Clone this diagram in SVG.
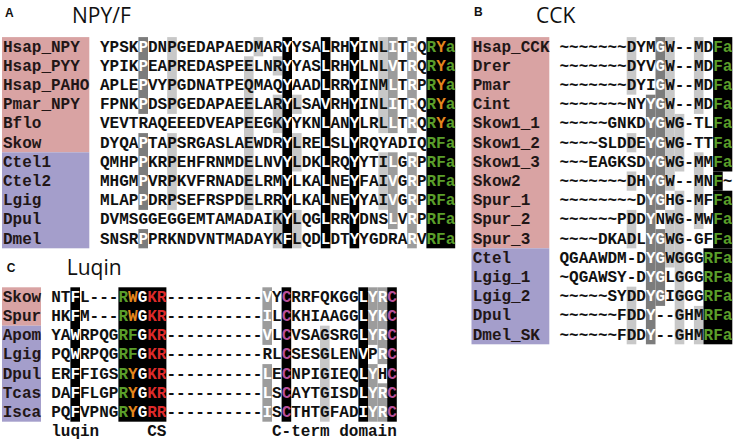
<svg xmlns="http://www.w3.org/2000/svg" width="734" height="441" viewBox="0 0 734 441">
<style>
.nm{font-family:"Liberation Mono","DejaVu Sans Mono",monospace;font-weight:bold;font-size:16px;fill:#221616}
.sq{font-family:"Liberation Mono","DejaVu Sans Mono",monospace;font-weight:bold;font-size:16px;fill:#111}
.w{fill:#fff}.g{fill:#5a9e2a}.o{fill:#e3861d}.r{fill:#dd2a2a}.mg{fill:#b8509a}
.ti{font-family:"Open Sans","DejaVu Sans",sans-serif;font-size:21px;fill:#111}
.pl{font-family:"Liberation Sans",Arial,sans-serif;font-weight:bold;font-size:12px;fill:#111}
.pk{fill:#d9a3a3}.bl{fill:#a49ecb}.k{fill:#000}.dg{fill:#7c7c7c}.mgy{fill:#9c9c9c}.lg{fill:#c8c8c8}
</style>
<rect width="734" height="441" fill="#fff"/>

<g id="panel-A">
  <text class="pl" x="5" y="16.7">A</text>
  <text class="ti" x="72" y="23">NPY/F</text>
  <rect class="pk" x="2" y="37.1" width="87.3" height="115.2"/>
  <rect class="bl" x="2" y="152.3" width="87.3" height="96"/>
  <g id="A-shading">
    <rect class="dg" x="138.4" y="37.1" width="9.6" height="76.8"/>
    <rect class="dg" x="138.4" y="133.1" width="9.6" height="76.8"/>
    <rect class="dg" x="138.4" y="229.1" width="9.6" height="19.2"/>
    <rect class="lg" x="167.2" y="37.1" width="9.6" height="76.8"/>
    <rect class="lg" x="167.2" y="133.1" width="9.6" height="76.8"/>
    <rect class="lg" x="244" y="56.3" width="9.6" height="153.6"/>
    <rect class="lg" x="253.6" y="37.1" width="9.6" height="19.2"/>
    <rect class="lg" x="272.8" y="56.3" width="9.6" height="19.2"/>
    <rect class="lg" x="272.8" y="94.7" width="9.6" height="38.4"/>
    <rect class="lg" x="272.8" y="209.9" width="9.6" height="38.4"/>
    <rect class="k" x="282.4" y="37.1" width="9.6" height="211.2"/>
    <rect class="lg" x="292" y="94.7" width="9.6" height="19.2"/>
    <rect class="lg" x="292" y="133.1" width="9.6" height="38.4"/>
    <rect class="lg" x="292" y="209.9" width="9.6" height="38.4"/>
    <rect class="k" x="320.8" y="37.1" width="9.6" height="211.2"/>
    <rect class="k" x="349.6" y="37.1" width="9.6" height="211.2"/>
    <rect class="lg" x="378.4" y="37.1" width="9.6" height="96"/>
    <rect class="lg" x="378.4" y="152.3" width="9.6" height="57.6"/>
    <rect class="mgy" x="388" y="37.1" width="9.6" height="96"/>
    <rect class="mgy" x="388" y="152.3" width="9.6" height="76.8"/>
    <rect class="mgy" x="407.2" y="37.1" width="9.6" height="96"/>
    <rect class="mgy" x="407.2" y="152.3" width="9.6" height="96"/>
    <rect class="k" x="426.4" y="37.1" width="28.8" height="211.2"/>
  </g>
  <g id="A-Hsap_NPY"><text class="nm" x="3" y="51.6">Hsap_NPY</text><text class="sq" x="100" y="51.6">YPSK<tspan class="w">P</tspan>DNPGEDAPAEDMAR<tspan class="w">Y</tspan>YSA<tspan class="w">L</tspan>RH<tspan class="w">Y</tspan>INL<tspan class="w">I</tspan>T<tspan class="w">R</tspan>Q<tspan class="g">R</tspan><tspan class="o">Y</tspan><tspan class="g">a</tspan></text></g>
  <g id="A-Hsap_PYY"><text class="nm" x="3" y="70.8">Hsap_PYY</text><text class="sq" x="100" y="70.8">YPIK<tspan class="w">P</tspan>EAPREDASPEELNR<tspan class="w">Y</tspan>YAS<tspan class="w">L</tspan>RH<tspan class="w">Y</tspan>LNL<tspan class="w">V</tspan>T<tspan class="w">R</tspan>Q<tspan class="g">R</tspan><tspan class="o">Y</tspan><tspan class="g">a</tspan></text></g>
  <g id="A-Hsap_PAHO"><text class="nm" x="3" y="90">Hsap_PAHO</text><text class="sq" x="100" y="90">APLE<tspan class="w">P</tspan>VYPGDNATPEQMAQ<tspan class="w">Y</tspan>AAD<tspan class="w">L</tspan>RR<tspan class="w">Y</tspan>INM<tspan class="w">L</tspan>T<tspan class="w">R</tspan>P<tspan class="g">R</tspan><tspan class="o">Y</tspan><tspan class="g">a</tspan></text></g>
  <g id="A-Pmar_NPY"><text class="nm" x="3" y="109.2">Pmar_NPY</text><text class="sq" x="100" y="109.2">FPNK<tspan class="w">P</tspan>DSPGEDAPAEELAR<tspan class="w">Y</tspan>LSA<tspan class="w">V</tspan>RH<tspan class="w">Y</tspan>INL<tspan class="w">I</tspan>T<tspan class="w">R</tspan>Q<tspan class="g">R</tspan><tspan class="o">Y</tspan><tspan class="g">a</tspan></text></g>
  <g id="A-Bflo"><text class="nm" x="3" y="128.4">Bflo</text><text class="sq" x="100" y="128.4">VEVTRAQEEEDVEAPEEGK<tspan class="w">Y</tspan>YKN<tspan class="w">L</tspan>AN<tspan class="w">Y</tspan>LRL<tspan class="w">L</tspan>T<tspan class="w">R</tspan>Q<tspan class="g">R</tspan><tspan class="o">Y</tspan><tspan class="g">a</tspan></text></g>
  <g id="A-Skow"><text class="nm" x="3" y="147.6">Skow</text><text class="sq" x="100" y="147.6">DYQA<tspan class="w">P</tspan>TAPSRGASLAEWDR<tspan class="w">Y</tspan>LRE<tspan class="w">L</tspan>SL<tspan class="w">Y</tspan>RQYADIQ<tspan class="g">RFa</tspan></text></g>
  <g id="A-Ctel1"><text class="nm" x="3" y="166.8">Ctel1</text><text class="sq" x="100" y="166.8">QMHP<tspan class="w">P</tspan>KRPEHFRNMDELNV<tspan class="w">Y</tspan>LDK<tspan class="w">L</tspan>RQ<tspan class="w">Y</tspan>YTI<tspan class="w">L</tspan>G<tspan class="w">R</tspan>P<tspan class="g">RFa</tspan></text></g>
  <g id="A-Ctel2"><text class="nm" x="3" y="186">Ctel2</text><text class="sq" x="100" y="186">MHGM<tspan class="w">P</tspan>VRPKVFRNADELRM<tspan class="w">Y</tspan>LKA<tspan class="w">L</tspan>NE<tspan class="w">Y</tspan>FAI<tspan class="w">V</tspan>G<tspan class="w">R</tspan>P<tspan class="g">RFa</tspan></text></g>
  <g id="A-Lgig"><text class="nm" x="3" y="205.2">Lgig</text><text class="sq" x="100" y="205.2">MLAP<tspan class="w">P</tspan>DRPSEFRSPDELRR<tspan class="w">Y</tspan>LKA<tspan class="w">L</tspan>NE<tspan class="w">Y</tspan>YAI<tspan class="w">V</tspan>G<tspan class="w">R</tspan>P<tspan class="g">RFa</tspan></text></g>
  <g id="A-Dpul"><text class="nm" x="3" y="224.4">Dpul</text><text class="sq" x="100" y="224.4">DVMSGGEGGEMTAMADAIK<tspan class="w">Y</tspan>LQG<tspan class="w">L</tspan>RR<tspan class="w">Y</tspan>DNS<tspan class="w">L</tspan>V<tspan class="w">R</tspan>P<tspan class="g">RFa</tspan></text></g>
  <g id="A-Dmel"><text class="nm" x="3" y="243.6">Dmel</text><text class="sq" x="100" y="243.6">SNSR<tspan class="w">P</tspan>PRKNDVNTMADAYK<tspan class="w">F</tspan>LQD<tspan class="w">L</tspan>DT<tspan class="w">Y</tspan>YGDRA<tspan class="w">R</tspan>V<tspan class="g">RFa</tspan></text></g>
</g>

<g id="panel-B">
  <text class="pl" x="474" y="15.5">B</text>
  <text class="ti" x="536" y="23">CCK</text>
  <rect class="pk" x="471.5" y="37.1" width="77.8" height="211.2"/>
  <rect class="bl" x="471.5" y="248.3" width="77.8" height="96"/>
  <g id="B-shading">
    <rect class="lg" x="626.7" y="37.1" width="9.6" height="57.6"/>
    <rect class="lg" x="626.7" y="133.1" width="9.6" height="19.2"/>
    <rect class="lg" x="626.7" y="171.5" width="9.6" height="19.2"/>
    <rect class="lg" x="626.7" y="209.9" width="9.6" height="38.4"/>
    <rect class="lg" x="626.7" y="286.7" width="9.6" height="57.6"/>
    <rect class="dg" x="645.9" y="94.7" width="9.6" height="249.6"/>
    <rect class="dg" x="655.5" y="37.1" width="9.6" height="172.8"/>
    <rect class="dg" x="655.5" y="229.1" width="9.6" height="76.8"/>
    <rect class="lg" x="665.1" y="37.1" width="9.6" height="153.6"/>
    <rect class="lg" x="665.1" y="209.9" width="9.6" height="57.6"/>
    <rect class="lg" x="674.7" y="113.9" width="9.6" height="57.6"/>
    <rect class="lg" x="674.7" y="190.7" width="9.6" height="153.6"/>
    <rect class="lg" x="693.9" y="37.1" width="9.6" height="76.8"/>
    <rect class="lg" x="693.9" y="152.3" width="9.6" height="76.8"/>
    <rect class="lg" x="693.9" y="305.9" width="9.6" height="38.4"/>
    <rect class="k" x="713.1" y="37.1" width="19.2" height="134.4"/>
    <rect class="k" x="713.1" y="171.5" width="9.6" height="19.2"/>
    <rect class="k" x="713.1" y="190.7" width="19.2" height="57.6"/>
    <rect class="k" x="703.5" y="248.3" width="28.8" height="96"/>
  </g>
  <g id="B-Hsap_CCK"><text class="nm" x="472.7" y="51.6">Hsap_CCK</text><text class="sq" x="559.5" y="51.6">~~~~~~~DYM<tspan class="w">G</tspan>W--MD<tspan class="g">Fa</tspan></text></g>
  <g id="B-Drer"><text class="nm" x="472.7" y="70.8">Drer</text><text class="sq" x="559.5" y="70.8">~~~~~~~DYV<tspan class="w">G</tspan>W--MD<tspan class="g">Fa</tspan></text></g>
  <g id="B-Pmar"><text class="nm" x="472.7" y="90">Pmar</text><text class="sq" x="559.5" y="90">~~~~~~~DYI<tspan class="w">G</tspan>W--MD<tspan class="g">Fa</tspan></text></g>
  <g id="B-Cint"><text class="nm" x="472.7" y="109.2">Cint</text><text class="sq" x="559.5" y="109.2">~~~~~~~NY<tspan class="w">YG</tspan>W--MD<tspan class="g">Fa</tspan></text></g>
  <g id="B-Skow1_1"><text class="nm" x="472.7" y="128.4">Skow1_1</text><text class="sq" x="559.5" y="128.4">~~~~~GNKD<tspan class="w">YG</tspan>WG-TL<tspan class="g">Fa</tspan></text></g>
  <g id="B-Skow1_2"><text class="nm" x="472.7" y="147.6">Skow1_2</text><text class="sq" x="559.5" y="147.6">~~~~SLDDE<tspan class="w">YG</tspan>WG-TT<tspan class="g">Fa</tspan></text></g>
  <g id="B-Skow1_3"><text class="nm" x="472.7" y="166.8">Skow1_3</text><text class="sq" x="559.5" y="166.8">~~~EAGKSD<tspan class="w">YG</tspan>WG-MM<tspan class="g">Fa</tspan></text></g>
  <g id="B-Skow2"><text class="nm" x="472.7" y="186">Skow2</text><text class="sq" x="559.5" y="186">~~~~~~~DH<tspan class="w">YG</tspan>W--MN<tspan class="g">F</tspan>~</text></g>
  <g id="B-Spur_1"><text class="nm" x="472.7" y="205.2">Spur_1</text><text class="sq" x="559.5" y="205.2">~~~~~~~~D<tspan class="w">YG</tspan>HG-MF<tspan class="g">Fa</tspan></text></g>
  <g id="B-Spur_2"><text class="nm" x="472.7" y="224.4">Spur_2</text><text class="sq" x="559.5" y="224.4">~~~~~~PDD<tspan class="w">Y</tspan>NWG-MW<tspan class="g">Fa</tspan></text></g>
  <g id="B-Spur_3"><text class="nm" x="472.7" y="243.6">Spur_3</text><text class="sq" x="559.5" y="243.6">~~~~DKADL<tspan class="w">YG</tspan>WG-GF<tspan class="g">Fa</tspan></text></g>
  <g id="B-Ctel"><text class="nm" x="472.7" y="262.8">Ctel</text><text class="sq" x="559.5" y="262.8">QGAAWDM-D<tspan class="w">YG</tspan>WGGG<tspan class="g">RFa</tspan></text></g>
  <g id="B-Lgig_1"><text class="nm" x="472.7" y="282">Lgig_1</text><text class="sq" x="559.5" y="282">~QGAWSY-D<tspan class="w">YG</tspan>LGGG<tspan class="g">RFa</tspan></text></g>
  <g id="B-Lgig_2"><text class="nm" x="472.7" y="301.2">Lgig_2</text><text class="sq" x="559.5" y="301.2">~~~~~SYDD<tspan class="w">YG</tspan>IGGG<tspan class="g">RFa</tspan></text></g>
  <g id="B-Dpul"><text class="nm" x="472.7" y="320.4">Dpul</text><text class="sq" x="559.5" y="320.4">~~~~~~FDD<tspan class="w">Y</tspan>--GHM<tspan class="g">RFa</tspan></text></g>
  <g id="B-Dmel_SK"><text class="nm" x="472.7" y="339.6">Dmel_SK</text><text class="sq" x="559.5" y="339.6">~~~~~~FDD<tspan class="w">Y</tspan>--GHM<tspan class="g">RFa</tspan></text></g>
</g>

<g id="panel-C">
  <text class="pl" x="6.7" y="271.7">C</text>
  <text class="ti" x="66.7" y="275">Luqin</text>
  <rect class="pk" x="2" y="287.3" width="39" height="38.4"/>
  <rect class="bl" x="2" y="325.7" width="39" height="96"/>
  <g id="C-shading">
    <rect class="k" x="70.4" y="287.3" width="9.6" height="134.4"/>
    <rect class="k" x="118.4" y="287.3" width="48" height="134.4"/>
    <rect class="mgy" x="262.4" y="287.3" width="9.6" height="57.6"/>
    <rect class="mgy" x="262.4" y="364.1" width="9.6" height="57.6"/>
    <rect class="k" x="281.6" y="287.3" width="9.6" height="134.4"/>
    <rect class="lg" x="320" y="325.7" width="9.6" height="96"/>
    <rect class="k" x="358.4" y="287.3" width="9.6" height="134.4"/>
    <rect class="mgy" x="368" y="287.3" width="9.6" height="57.6"/>
    <rect class="mgy" x="368" y="364.1" width="9.6" height="57.6"/>
    <rect class="mgy" x="377.6" y="287.3" width="9.6" height="76.8"/>
    <rect class="mgy" x="377.6" y="383.3" width="9.6" height="38.4"/>
    <rect class="k" x="387.2" y="287.3" width="9.6" height="134.4"/>
  </g>
  <g id="C-Skow"><text class="nm" x="2.7" y="301.8">Skow</text><text class="sq" x="51.2" y="301.8">NT<tspan class="w">F</tspan>L---<tspan class="g">R</tspan><tspan class="o">W</tspan><tspan class="w">G</tspan><tspan class="r">KR</tspan>----------<tspan class="w">V</tspan>Y<tspan class="mg">C</tspan>RRFQKGG<tspan class="w">LYR</tspan><tspan class="mg">C</tspan></text></g>
  <g id="C-Spur"><text class="nm" x="2.7" y="321">Spur</text><text class="sq" x="51.2" y="321">HK<tspan class="w">F</tspan>M---<tspan class="g">R</tspan><tspan class="o">W</tspan><tspan class="w">G</tspan><tspan class="r">KR</tspan>----------<tspan class="w">I</tspan>L<tspan class="mg">C</tspan>KHIAAGG<tspan class="w">LYK</tspan><tspan class="mg">C</tspan></text></g>
  <g id="C-Apom"><text class="nm" x="2.7" y="340.2">Apom</text><text class="sq" x="51.2" y="340.2">YA<tspan class="w">W</tspan>RPQG<tspan class="g">RF</tspan><tspan class="w">G</tspan><tspan class="r">KR</tspan>----------<tspan class="w">V</tspan>L<tspan class="mg">C</tspan>VSAGSRG<tspan class="w">LYR</tspan><tspan class="mg">C</tspan></text></g>
  <g id="C-Lgig"><text class="nm" x="2.7" y="359.4">Lgig</text><text class="sq" x="51.2" y="359.4">PQ<tspan class="w">W</tspan>RPQG<tspan class="g">RF</tspan><tspan class="w">G</tspan><tspan class="r">KR</tspan>----------RL<tspan class="mg">C</tspan>SESGLEN<tspan class="w">V</tspan>P<tspan class="w">R</tspan><tspan class="mg">C</tspan></text></g>
  <g id="C-Dpul"><text class="nm" x="2.7" y="378.6">Dpul</text><text class="sq" x="51.2" y="378.6">ER<tspan class="w">F</tspan>FIGS<tspan class="g">R</tspan><tspan class="o">Y</tspan><tspan class="w">G</tspan><tspan class="r">KR</tspan>----------<tspan class="w">L</tspan>E<tspan class="mg">C</tspan>NPIGIEQ<tspan class="w">LY</tspan>H<tspan class="mg">C</tspan></text></g>
  <g id="C-Tcas"><text class="nm" x="2.7" y="397.8">Tcas</text><text class="sq" x="51.2" y="397.8">DA<tspan class="w">F</tspan>FLGP<tspan class="g">R</tspan><tspan class="o">Y</tspan><tspan class="w">G</tspan><tspan class="r">KR</tspan>----------<tspan class="w">L</tspan>S<tspan class="mg">C</tspan>AYTGISD<tspan class="w">LYR</tspan><tspan class="mg">C</tspan></text></g>
  <g id="C-Isca"><text class="nm" x="2.7" y="417">Isca</text><text class="sq" x="51.2" y="417">PQ<tspan class="w">F</tspan>VPNG<tspan class="g">R</tspan><tspan class="o">Y</tspan><tspan class="w">G</tspan><tspan class="r">RR</tspan>----------<tspan class="w">I</tspan>S<tspan class="mg">C</tspan>THTGFAD<tspan class="w">IYR</tspan><tspan class="mg">C</tspan></text></g>
  <g id="C-labels">
    <text class="sq" x="51.2" y="436.2">luqin</text>
    <text class="sq" x="147.2" y="436.2">CS</text>
    <text class="sq" x="272" y="436.2">C-term domain</text>
  </g>
</g>
</svg>
